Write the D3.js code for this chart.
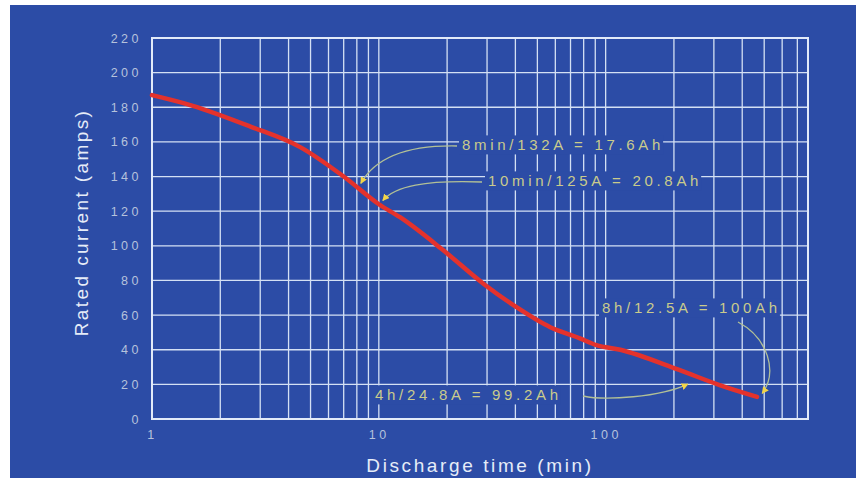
<!DOCTYPE html>
<html>
<head>
<meta charset="utf-8">
<script src="https://cdn.jsdelivr.net/npm/d3@7"></script>
<style>
  body { margin: 0; background: #fff; }
  text { font-family: "Liberation Sans", Arial, sans-serif; }
</style>
</head>
<body>
<div id="chart"></div>
<script>
// discharge curve: time (min) and rated current (A)
const times    = [1, 1.5, 2.7, 4.5, 7, 10, 12.4, 19, 29, 40, 57, 77, 91, 116, 211, 318, 465];
const currents = [187, 181, 169, 157, 140, 124, 116.5, 98, 78, 65, 53, 46.6, 42.7, 40, 28.3, 19.6, 12.8];

const yTicks = [0, 20, 40, 60, 80, 100, 120, 140, 160, 180, 200, 220];
const xTickLabels = [1, 10, 100];

// annotations: label text and the point on the curve they point to
const noteTexts   = ["8min/132A = 17.6Ah", "10min/125A = 20.8Ah", "8h/12.5A = 100Ah", "4h/24.8A = 99.2Ah"];
const noteTimes   = [8, 10, 480, 240];
const noteAmps    = [132, 125, 12.5, 24.8];

const width = 861, height = 478;
const svg = d3.select("#chart").append("svg")
    .attr("width", width)
    .attr("height", height);

// blue panel
svg.append("rect")
    .attr("x", 10).attr("y", 5)
    .attr("width", 846).attr("height", 473)
    .attr("fill", "#2c4ca6");

const x = d3.scaleLog().domain([1, 780]).range([152, 808]);
const y = d3.scaleLinear().domain([0, 220]).range([419, 38]);

const gridColor = "#d4e0f4";

// vertical grid (1..9 of every decade)
svg.append("g")
    .selectAll("line")
    .data(x.ticks())
    .enter().append("line")
    .attr("x1", d => x(d)).attr("x2", d => x(d))
    .attr("y1", y(0)).attr("y2", y(220))
    .attr("stroke", gridColor)
    .attr("stroke-width", 1.3);

// horizontal grid
svg.append("g")
    .selectAll("line")
    .data(yTicks)
    .enter().append("line")
    .attr("x1", x.range()[0]).attr("x2", x.range()[1])
    .attr("y1", d => y(d)).attr("y2", d => y(d))
    .attr("stroke", gridColor)
    .attr("stroke-width", 1.3);

// frame
svg.append("rect")
    .attr("x", x.range()[0]).attr("y", y(220))
    .attr("width", x.range()[1] - x.range()[0])
    .attr("height", y(0) - y(220))
    .attr("fill", "none")
    .attr("stroke", "#e2eaf8")
    .attr("stroke-width", 2);

// axes (labels only)
const yAxis = svg.append("g")
    .attr("transform", `translate(${x.range()[0]},0)`)
    .call(d3.axisLeft(y).tickValues(yTicks).tickSize(0).tickPadding(10));
const xAxis = svg.append("g")
    .attr("transform", `translate(0,${y(0)})`)
    .call(d3.axisBottom(x).tickValues(xTickLabels).tickFormat(d3.format("d")).tickSize(0).tickPadding(11));

[yAxis, xAxis].forEach(ax => {
    ax.select(".domain").remove();
    ax.selectAll("text")
        .attr("fill", "#b6c2dc")
        .style("font-size", "12.5px")
        .style("letter-spacing", "3.5px")
        .style("font-family", "'Liberation Sans', Arial, sans-serif");
});

// axis titles
svg.append("text")
    .attr("transform", `translate(88,${(y(0) + y(220)) / 2 - 6}) rotate(-90)`)
    .attr("text-anchor", "middle")
    .attr("fill", "#e6ecf8")
    .style("font-size", "19px")
    .style("letter-spacing", "2.4px")
    .text("Rated current (amps)");

svg.append("text")
    .attr("x", (x.range()[0] + x.range()[1]) / 2)
    .attr("y", 472)
    .attr("text-anchor", "middle")
    .attr("fill", "#e6ecf8")
    .style("font-size", "19px")
    .style("letter-spacing", "2.6px")
    .text("Discharge time (min)");

// the red curve
const pts = times.map((t, i) => [t, currents[i]]);
svg.append("path")
    .datum(pts)
    .attr("d", d3.line().x(d => x(d[0])).y(d => y(d[1])).curve(d3.curveMonotoneX))
    .attr("fill", "none")
    .attr("stroke", "#e4322c")
    .attr("stroke-width", 4.5)
    .attr("stroke-linecap", "round");

// arrow marker
svg.append("defs").append("marker")
    .attr("id", "head")
    .attr("viewBox", "0 0 10 10")
    .attr("refX", 9).attr("refY", 5)
    .attr("markerWidth", 7).attr("markerHeight", 7)
    .attr("markerUnits", "userSpaceOnUse")
    .attr("orient", "auto")
    .append("path")
    .attr("d", "M0,0 L10,5 L0,10 Z")
    .attr("fill", "#f2d448");

// label positions (left edge, middle) and arrow shapes, in pixels
const labelPos = [[462, 145], [488, 181], [602, 308], [375, 395]];
const tipShift = [[4, -7], [4, -2], [2, -4], [-4, 8]];
function arrowPath(i, tx, ty) {
    const p = d3.path();
    if (i === 0) { p.moveTo(457, 146); p.bezierCurveTo(405, 145, 375, 158, tx, ty); }
    if (i === 1) { p.moveTo(482, 182); p.bezierCurveTo(425, 180, 395, 186, tx, ty); }
    if (i === 2) { p.moveTo(738, 322); p.bezierCurveTo(768, 338, 778, 372, tx, ty); }
    if (i === 3) { p.moveTo(583, 396); p.bezierCurveTo(605, 401, 660, 397, tx, ty); }
    return p.toString();
}

const notes = svg.append("g");
noteTexts.forEach((txt, i) => {
    const g = notes.append("g");
    const bg = g.append("rect").attr("fill", "#2c4ca6");
    const t = g.append("text")
        .attr("x", labelPos[i][0])
        .attr("y", labelPos[i][1])
        .attr("dy", "0.36em")
        .attr("fill", "#cacb8c")
        .style("font-size", "15px")
        .style("letter-spacing", "3.7px")
        .text(txt);
    const bb = t.node().getBBox();
    bg.attr("x", bb.x - 3).attr("y", bb.y - 1)
        .attr("width", bb.width + 2).attr("height", bb.height + 2);

    const tx = x(noteTimes[i]) + tipShift[i][0];
    const ty = y(noteAmps[i]) + tipShift[i][1];
    notes.append("path")
        .attr("d", arrowPath(i, tx, ty))
        .attr("fill", "none")
        .attr("stroke", "#b2c096")
        .attr("stroke-width", 1.3)
        .attr("marker-end", "url(#head)");
});
</script>
</body>
</html>
